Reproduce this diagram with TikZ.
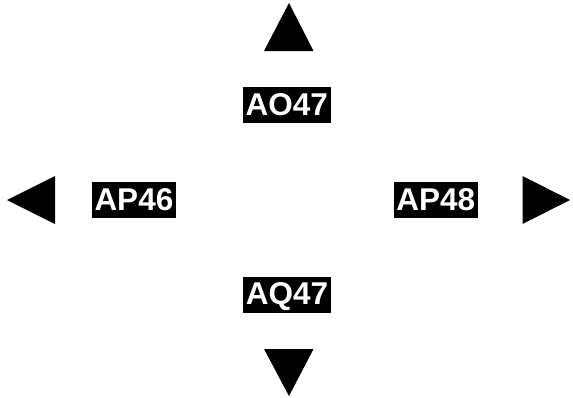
\documentclass[tikz,border=0pt]{standalone}
\usepackage{fontspec}
\setmainfont{Liberation Sans}
\tikzset{
  lbl/.style={fill=black, text=white, font=\bfseries\fontsize{31.5}{36}\selectfont,
    inner xsep=2.8pt, inner ysep=0pt, text height=28.4pt, text depth=7.6pt},
  tri/.style={fill=black, draw=none}
}
\begin{document}
\begin{tikzpicture}[x=1pt,y=-1pt]
\useasboundingbox (0,0) rectangle (573,397);
\fill[white] (0,0) rectangle (573,397);
% triangles
\path[tri] (289,3) -- (313.5,51) -- (264,51) -- cycle;
\path[tri] (289,396) -- (313.5,349) -- (264,349) -- cycle;
\path[tri] (7,200) -- (55,176) -- (55,224) -- cycle;
\path[tri] (570,200) -- (522.5,176) -- (522.5,224) -- cycle;
% labels
\node[lbl] (ao) at (286.7,105) {AO47};
\node[lbl] (aq) at (287,294.5) {AQ47};
\node[lbl] (ap46) at (133.9,200.4) {AP46};
\node[lbl] (ap48) at (435.8,200.4) {AP48};
\end{tikzpicture}
\end{document}
